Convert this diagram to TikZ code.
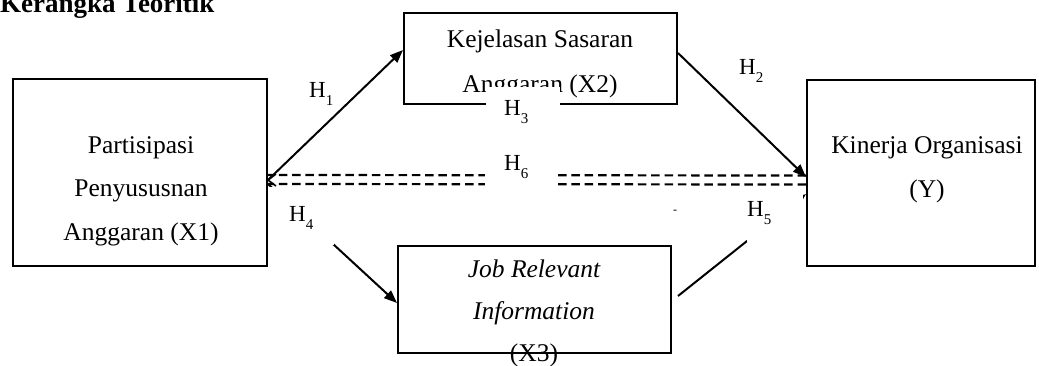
\documentclass[tikz,border=0pt]{standalone}
\usepackage{fontspec}
\setmainfont{Liberation Serif}
\usetikzlibrary{arrows.meta,calc}
\newcommand\hlab[1]{H\raisebox{-8pt}{\fontsize{15}{15}\selectfont #1}}
\begin{document}
\begin{tikzpicture}[x=1pt,y=-1pt,
  box/.style={draw, line width=2pt, inner sep=0pt},
  txt/.style={anchor=base, align=center, inner sep=0pt},
  arr/.style={line width=2pt, -{Triangle[length=13pt,width=10pt]}},
  dsh/.style={line width=2.2pt, dash pattern=on 8.5pt off 4.8pt},
  mask/.style={white},
  hl/.style={anchor=base west, inner sep=0pt, font=\fontsize{23}{23}\selectfont}]
\useasboundingbox (0,0) rectangle (1039,365);
% title
\node[anchor=base west, inner sep=0pt, font=\bfseries\fontsize{27}{27}\selectfont] (title) at (0,12) {Kerangka Teoritik};
% boxes
\node[box, minimum width=254pt, minimum height=187pt] (x1) at (140,172.5) {};
\node[box, minimum width=273pt, minimum height=91pt] (x2) at (540.5,58.5) {};
\node[box, minimum width=228pt, minimum height=186pt] (ky) at (921,173) {};
\node[box, minimum width=273pt, minimum height=107pt] (x3) at (534.5,299.5) {};
% texts (base = baseline of last line)
\node[txt, font=\fontsize{25.5}{43.5}\selectfont] (t1) at (141,240) {Partisipasi\\Penyususnan\\Anggaran (X1)};
\node[txt, font=\fontsize{25.5}{45}\selectfont] (t2) at (540,92) {Kejelasan Sasaran\\Anggaran (X2)};
\node[txt, font=\fontsize{25.5}{44}\selectfont] (ty) at (927,197) {Kinerja Organisasi\\(Y)};
\node[txt, font=\fontsize{25.5}{42}\selectfont] (t3) at (534,361) {{\itshape Job Relevant}\\{\itshape Information}\\(X3)};
% connectors
\draw[arr] ([yshift=-7.5pt]x1.east) -- ([yshift=8.5pt]x2.west);
\draw[dsh] ([yshift=-2.5pt]ky.west) -- ([yshift=-2.5pt]x1.east);
\draw[dsh] ([yshift=-11.5pt]ky.west) -- ([yshift=-11.5pt]x1.east);
\draw[line width=1.6pt] ([xshift=8pt,yshift=-1.5pt]x1.east) -- ([yshift=-7.5pt]x1.east) -- ([xshift=8pt,yshift=-13.5pt]x1.east);
\draw[arr] ([yshift=5.5pt]x2.east) -- ([yshift=-4pt]ky.west);
\draw[arr] ([yshift=-11.5pt]x1.east) -- ([yshift=-3.5pt]x3.west);
\draw[arr] ([xshift=6pt,yshift=3.5pt]x3.east) -- ([yshift=-21pt]ky.west);
% masks (label text boxes)
\fill[mask] (486,87) rectangle (560,128);
\fill[mask] (485,150) rectangle (558,190);
\fill[mask] (269,187) rectangle (334,245);
\fill[mask] (747,193) rectangle (803,242);
% labels
\node[hl] (h1) at (309,97) {\hlab{1}};
\node[hl] (h2) at (739,74) {\hlab{2}};
\node[hl] (h3) at (504,115) {\hlab{3}};
\node[hl] (h6) at (504,170) {\hlab{6}};
\node[hl] (h4) at (289,221) {\hlab{4}};
\node[hl] (h5) at (747,216) {\hlab{5}};
\node[inner sep=0pt, font=\fontsize{12}{12}\selectfont] (dash) at (675,212) {-};
\end{tikzpicture}
\end{document}
